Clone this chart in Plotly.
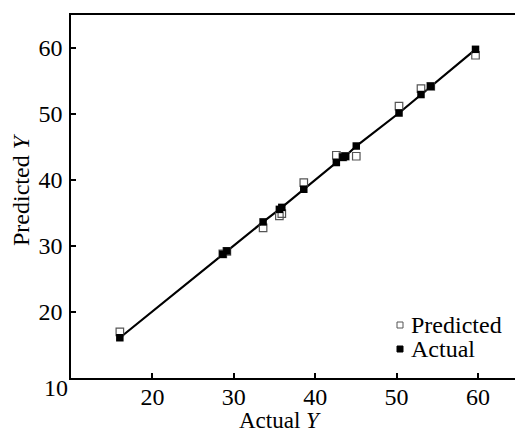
import plotly.graph_objects as go

actual_x = [16.0, 28.65, 29.15, 33.6, 35.6, 35.9, 38.6, 42.6, 43.4, 43.7, 45.05, 50.3, 53.0, 54.2, 59.7]
actual_y = [16.1, 28.75, 29.25, 33.65, 35.55, 35.85, 38.6, 42.65, 43.45, 43.6, 45.15, 50.15, 52.95, 54.2, 59.8]
pred_y = [17.0, 28.8, 29.2, 32.75, 34.55, 34.9, 39.6, 43.75, 43.5, 43.6, 43.6, 51.2, 53.85, 54.2, 58.9]

x_ticks = [20, 30, 40, 50, 60]
y_ticks = [20, 30, 40, 50, 60]
legend_names = ["Predicted", "Actual"]

FONT = "Liberation Serif"
FS = 24

# pixel -> paper helpers (plot area: x 71..515, y 15..378)
def px(x):
    return (x - 71) / 444

def py(y):
    return (378 - y) / 363

fig = go.Figure()
fig.add_trace(go.Scatter(x=actual_x, y=actual_y, mode="lines",
                         line=dict(color="black", width=2.2), showlegend=False, hoverinfo="skip"))
fig.add_trace(go.Scatter(x=actual_x, y=pred_y, mode="markers", name=legend_names[0], showlegend=False,
                         marker=dict(symbol="square-open", size=7.5, color="#555555", line=dict(width=1.2))))
fig.add_trace(go.Scatter(x=actual_x, y=actual_y, mode="markers", name=legend_names[1], showlegend=False,
                         marker=dict(symbol="square", size=7.5, color="black")))

shapes = [
    dict(type="rect", xref="paper", yref="paper", x0=px(397), x1=px(403), y0=py(328), y1=py(322),
         line=dict(color="#555555", width=1), fillcolor="white"),
    dict(type="rect", xref="paper", yref="paper", x0=px(397), x1=px(403), y0=py(352), y1=py(346),
         line=dict(color="black", width=1), fillcolor="black"),
]

annotations = [
    dict(text=legend_names[0], xref="paper", yref="paper", x=px(409), y=py(325),
         xanchor="left", yanchor="middle", showarrow=False, font=dict(family=FONT, size=FS)),
    dict(text=legend_names[1], xref="paper", yref="paper", x=px(409), y=py(349),
         xanchor="left", yanchor="middle", showarrow=False, font=dict(family=FONT, size=FS)),
    dict(text="10", xref="paper", yref="paper", x=px(56), y=py(388),
         xanchor="center", yanchor="middle", showarrow=False, font=dict(family=FONT, size=FS)),
    dict(text="Actual <i>Y</i>", xref="paper", yref="paper", x=px(280), y=py(420),
         xanchor="center", yanchor="middle", showarrow=False, font=dict(family=FONT, size=23)),
    dict(text="Predicted <i>Y</i>", xref="paper", yref="paper", x=px(21), y=py(190),
         xanchor="center", yanchor="middle", textangle=-90, showarrow=False,
         font=dict(family=FONT, size=FS)),
]

fig.update_layout(
    width=515, height=432,
    margin=dict(l=71, r=0, t=15, b=54),
    paper_bgcolor="white", plot_bgcolor="white",
    font=dict(family=FONT, size=FS, color="black"),
    showlegend=False,
    xaxis=dict(range=[10, 64.55], tickvals=x_ticks, ticks="inside", ticklen=5,
               tickwidth=1.5, tickcolor="black", showline=True, linecolor="black",
               linewidth=1.5, mirror=True, showgrid=False, zeroline=False,
               tickfont=dict(family=FONT, size=FS), ticklabelstandoff=-4),
    yaxis=dict(range=[10, 65], tickvals=y_ticks, ticks="inside", ticklen=5,
               tickwidth=1.5, tickcolor="black", showline=True, linecolor="black",
               linewidth=1.5, mirror=False, showgrid=False, zeroline=False,
               tickfont=dict(family=FONT, size=FS), ticklabelstandoff=2),
    shapes=shapes,
    annotations=annotations,
)

fig.write_html("out.html")
